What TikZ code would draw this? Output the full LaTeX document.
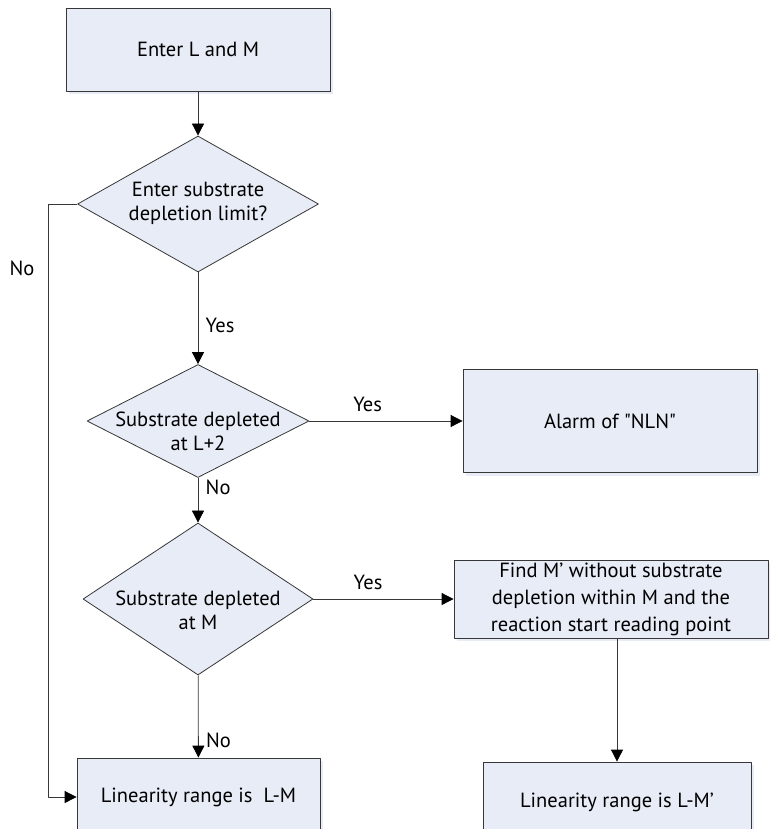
\documentclass[tikz,border=0pt]{standalone}
\usepackage{fontspec}
\setmainfont{PT Sans}
\usetikzlibrary{arrows.meta,shapes.geometric,shadows}
\definecolor{boxfill}{RGB}{231,236,246}
\definecolor{edgegray}{RGB}{55,55,55}
% text inside a diamond that does not grow the diamond
\newcommand{\dtext}[2]{\smash{\raisebox{#1}{\makebox[0pt]{\begin{tabular}{@{}c@{}}#2\end{tabular}}}}}

\begin{document}
\begin{tikzpicture}[x=1pt,y=-1pt,line join=round,
    font=\fontsize{20.5}{24}\selectfont,
    stepbox/.style={draw=edgegray,fill=boxfill,line width=0.8pt,align=center,inner sep=0pt,
      drop shadow={shadow xshift=3pt,shadow yshift=-3pt,fill=boxfill,opacity=1}},
    decision/.style={diamond,draw=edgegray,fill=boxfill,line width=0.8pt,inner sep=0pt},
    flow/.style={-{Triangle[length=12pt,width=12pt,color=black]},line width=0.8pt,draw=edgegray}]
  \useasboundingbox (0,0) rectangle (769,829);
  \node[stepbox,minimum width=264pt,minimum height=83pt] (start) at (198,49.5) {Enter L and M};
  \node[decision,minimum width=241pt,minimum height=136pt] (ask) at (198,204)
    {\dtext{-5pt}{Enter substrate\\depletion limit?}};
  \node[decision,minimum width=222pt,minimum height=113pt] (deplL) at (198,421)
    {\dtext{-18pt}{Substrate depleted\\at L+2}};
  \node[decision,minimum width=230pt,minimum height=152pt] (deplM) at (198,599)
    {\dtext{-19pt}{Substrate depleted\\at M}};
  \node[stepbox,minimum width=294pt,minimum height=103pt] (alarm) at (610,421) {Alarm of \textquotedbl NLN\textquotedbl};
  \node[stepbox,minimum width=314pt,minimum height=78pt,font=\fontsize{20.5}{27}\selectfont] (find) at (611,599)
    {Find M’ without substrate\\depletion within M and the\\reaction start reading point};
  \node[stepbox,minimum width=243pt,minimum height=78pt] (range) at (198.5,797) {Linearity range is\ \ L-M};
  \node[stepbox,minimum width=268pt,minimum height=80pt] (rangeb) at (617,802) {Linearity range is L-M’};

  \draw[flow] (start) -- (ask);
  \draw[flow] (ask) -- node[pos=0.58,right=4pt] (yesA) {Yes} (deplL);
  \draw[flow] (deplL) -- node[pos=0.38,above=6pt] (yesB) {Yes} (alarm);
  \draw[flow] (deplL) -- node[pos=0.2,right=4pt] (noB) {No} (deplM);
  \draw[flow] (deplM) -- node[pos=0.39,above=6pt] (yesC) {Yes} (find);
  \draw[flow] (deplM) -- node[pos=0.79,right=4pt] (noC) {No} (range);
  \draw[flow] (ask.west) -- ++(-29,0) |- (range.west);
  \node (noA) at (22,268) {No};
  \draw[flow] (rangeb.north |- find.south) -- (rangeb.north);
\end{tikzpicture}
\end{document}
